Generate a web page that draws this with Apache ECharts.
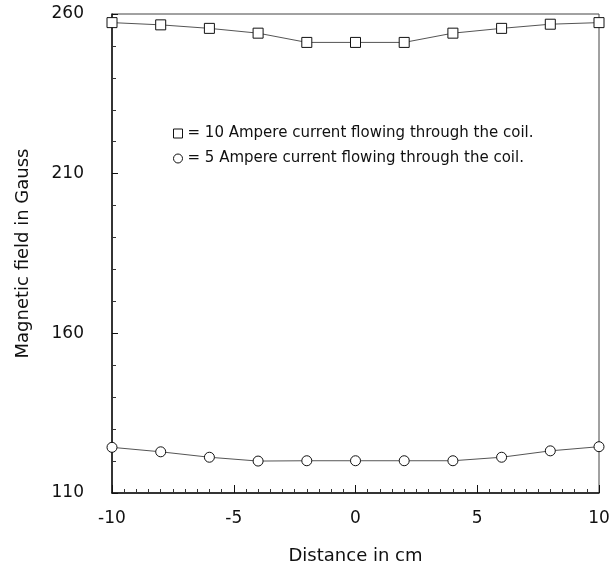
<!DOCTYPE html>
<html>
<head>
<meta charset="utf-8">
<script src="https://cdn.jsdelivr.net/npm/echarts@6/dist/echarts.min.js"></script>
<style>
  html, body { margin: 0; padding: 0; background: #fff; }
  #chart { width: 613px; height: 573px; }
</style>
</head>
<body>
<div id="chart"></div>
<script>
// distance along the coil axis (cm)
const distance = [-10, -8, -6, -4, -2, 0, 2, 4, 6, 8, 10];
// field readings in Gauss
const field10A = [257.3, 256.6, 255.5, 254.0, 251.1, 251.1, 251.1, 254.0, 255.5, 256.8, 257.3];
const field5A = [124.3, 122.9, 121.2, 120.0, 120.1, 120.1, 120.1, 120.1, 121.2, 123.2, 124.5];
const legend10 = "= 10 Ampere current flowing through the coil.";
const legend5 = "= 5 Ampere current flowing through the coil.";

const chart = echarts.init(document.getElementById("chart"));
const font = "DejaVu Sans, Liberation Sans, sans-serif";

function pairs(xs, ys) {
  return xs.map((x, i) => [x, ys[i]]);
}

chart.setOption({
  animation: false,
  backgroundColor: "#fff",
  textStyle: { fontFamily: font, color: "#111" },
  grid: {
    left: 112, right: 14, top: 14, bottom: 80,
    show: true, borderColor: "#444", borderWidth: 1
  },
  legend: {
    orient: "vertical",
    left: 168, top: 121,
    itemWidth: 9, itemHeight: 9, itemGap: 10,
    textStyle: { fontSize: 15, color: "#111", fontFamily: font },
    data: [
      { name: legend10, icon: "rect", itemStyle: { color: "#fff", borderColor: "#111", borderWidth: 1 } },
      { name: legend5, icon: "circle", itemStyle: { color: "#fff", borderColor: "#111", borderWidth: 1 } }
    ]
  },
  xAxis: {
    type: "value",
    min: -10, max: 10, interval: 5,
    name: "Distance in cm",
    nameLocation: "middle", nameGap: 54,
    nameTextStyle: { fontSize: 18, color: "#111" },
    axisLine: { onZero: false, lineStyle: { color: "#111", width: 1.5 } },
    axisTick: { inside: true, length: 8, lineStyle: { color: "#111" } },
    minorTick: { show: true, splitNumber: 10, length: 4, lineStyle: { color: "#333" } },
    axisLabel: { fontSize: 17, color: "#111", margin: 17 },
    splitLine: { show: false }
  },
  yAxis: {
    type: "value",
    min: 110, max: 260, interval: 50,
    name: "Magnetic field in Gauss",
    nameLocation: "middle", nameGap: 80,
    nameTextStyle: { fontSize: 18, color: "#111" },
    axisLine: { onZero: false, lineStyle: { color: "#111", width: 1.5 } },
    axisTick: { inside: true, length: 6, lineStyle: { color: "#111" } },
    minorTick: { show: true, splitNumber: 5, length: 4, lineStyle: { color: "#333" } },
    axisLabel: { fontSize: 17, color: "#111", margin: 28 },
    splitLine: { show: false }
  },
  series: [
    {
      name: legend10,
      type: "line",
      data: pairs(distance, field10A),
      symbol: "rect", symbolSize: 10,
      lineStyle: { color: "#555", width: 1 },
      itemStyle: { color: "#fff", borderColor: "#111", borderWidth: 1 }
    },
    {
      name: legend5,
      type: "line",
      data: pairs(distance, field5A),
      symbol: "circle", symbolSize: 10,
      lineStyle: { color: "#555", width: 1 },
      itemStyle: { color: "#fff", borderColor: "#111", borderWidth: 1 }
    }
  ]
});
</script>
</body>
</html>
